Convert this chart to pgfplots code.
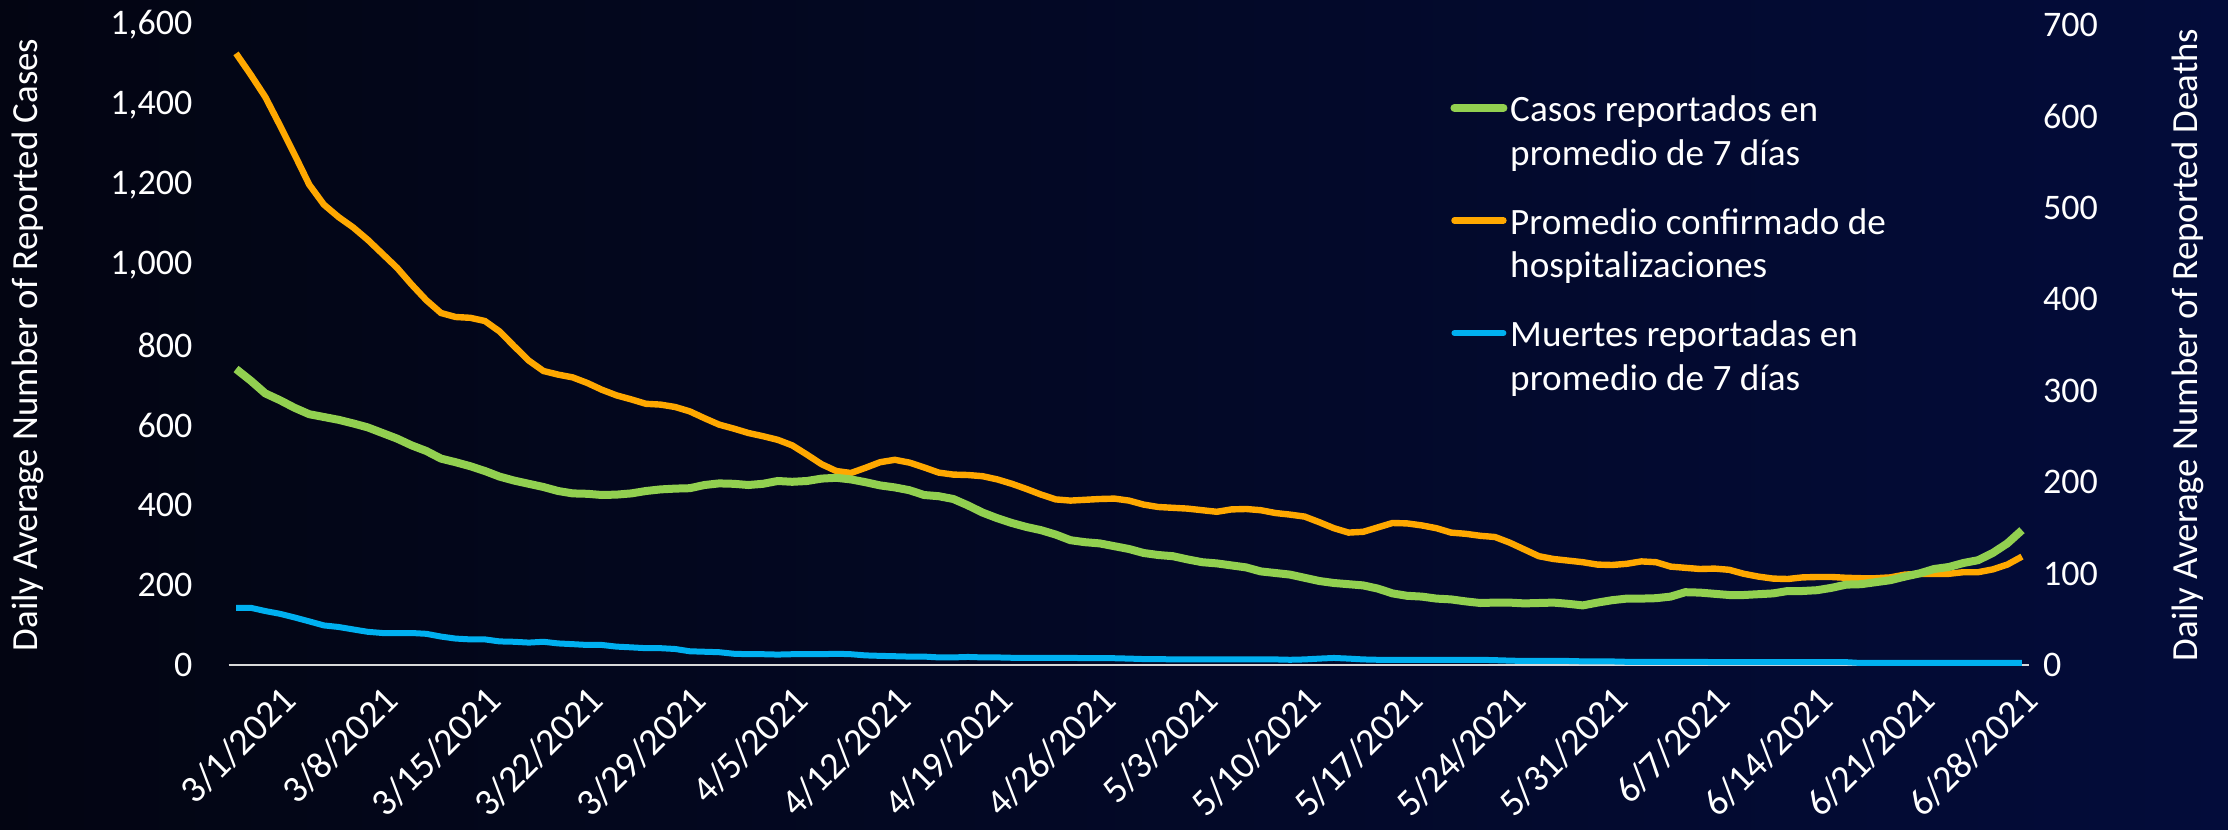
\documentclass[border=0pt]{standalone}
\usepackage{fontspec}
\setmainfont{Carlito}
\usepackage{pgfplots}
\usepackage{pgfplotstable}
\pgfplotsset{compat=1.18}

\definecolor{bgL}{RGB}{3,5,18}
\definecolor{bgR}{RGB}{3,12,58}
\definecolor{casos}{RGB}{146,208,80}
\definecolor{hosp}{RGB}{255,168,0}
\definecolor{muertes}{RGB}{0,176,240}
\definecolor{axisgray}{RGB}{217,217,217}

% day 0 = 3/1/2021; deaths read on the right axis
\pgfplotstableread{
day cases hosp deaths
0 740 1529 62.6
1 711 1476 62.6
2 679 1420 59.0
3 662 1349 56.0
4 643 1276 52.0
5 627 1201 47.7
6 620 1151 43.3
7 613 1120 41.6
8 604 1094 38.9
9 594 1063 36.3
10 580 1028 35.0
11 566 993 35.0
12 549 951 35.0
13 535 912 34.1
14 516 880 31.1
15 507 870 28.9
16 497 868 28.0
17 485 860 28.0
18 471 834 25.8
19 461 797 25.4
20 453 761 24.5
21 445 735 25.4
22 435 726 23.6
23 429 719 22.8
24 428 705 21.9
25 425 688 21.9
26 426 674 20.1
27 429 664 19.3
28 435 653 18.4
29 439 651 18.4
30 441 645 17.5
31 442 634 15.0
32 450 617 14.5
33 454 601 14.0
34 453 591 12.3
35 450 580 11.8
36 453 572 11.8
37 460 563 11.4
38 458 549 11.8
39 460 526 11.8
40 466 502 11.8
41 468 485 12.3
42 464 480 11.8
43 457 493 10.5
44 449 507 10.0
45 444 513 9.6
46 437 506 9.2
47 425 494 9.2
48 422 481 8.3
49 415 476 8.3
50 399 475 8.8
51 381 472 8.3
52 367 464 8.3
53 355 453 7.9
54 345 440 7.9
55 337 426 7.9
56 326 414 7.9
57 312 411 7.9
58 307 413 7.4
59 304 415 7.4
60 297 416 7.4
61 290 411 7.0
62 280 401 6.5
63 275 395 6.5
64 272 393 6.1
65 264 391 6.1
66 257 387 6.1
67 254 383 6.1
68 249 389 6.1
69 244 390 6.1
70 234 387 6.1
71 230 380 6.1
72 226 376 5.7
73 218 371 6.1
74 210 357 7.0
75 205 342 7.7
76 202 331 7.0
77 199 333 6.1
78 191 344 5.7
79 179 355 5.7
80 173 354 5.7
81 171 349 5.7
82 166 342 5.7
83 164 331 5.7
84 159 328 5.7
85 155 323 5.7
86 156 320 5.3
87 156 306 4.8
88 154 289 4.4
89 155 272 4.4
90 156 265 4.4
91 153 261 4.4
92 149 257 4.0
93 156 251 3.9
94 162 250 3.9
95 166 253 3.5
96 166 259 3.5
97 167 257 3.5
98 171 246 3.5
99 182 243 3.5
100 181 240 3.5
101 178 241 3.1
102 175 238 3.1
103 175 228 3.1
104 177 221 3.1
105 179 216 3.1
106 185 215 3.1
107 185 219 3.1
108 187 220 3.1
109 193 220 3.1
110 201 218 3.1
111 202 217 2.2
112 207 217 2.2
113 212 219 2.2
114 221 226 2.2
115 229 228 2.2
116 240 228 2.2
117 245 228 2.2
118 255 232 2.2
119 262 232 2.2
120 280 239 2.2
121 304 251 2.2
122 337 271 2.2
}\covid

\pgfplotsset{
  chartbase/.style={
    scale only axis,
    width=450.15pt, height=160pt,
    xmin=-0.5, xmax=122.5,
    tick style={draw=none},
    ticklabel style={text=white, font=\fontsize{9}{10}\selectfont},
    /pgf/number format/assume math mode=true,
  },
}

\begin{document}
\begin{tikzpicture}
\shade[left color=bgL, right color=bgR] (-57.18pt,-41pt) rectangle (499.83pt,166.25pt);

\begin{axis}[chartbase,
  ymin=0, ymax=1600, ytick={0,200,...,1600},
  /pgf/number format/1000 sep={,},
  axis x line*=bottom, axis y line*=left,
  x axis line style={-, draw=axisgray, line width=0.6pt},
  y axis line style={draw=none},
  xtick={0,7,...,119},
  xticklabels={3/1/2021,3/8/2021,3/15/2021,3/22/2021,3/29/2021,4/5/2021,4/12/2021,4/19/2021,4/26/2021,5/3/2021,5/10/2021,5/17/2021,5/24/2021,5/31/2021,6/7/2021,6/14/2021,6/21/2021,6/28/2021},
  xticklabel style={rotate=45, anchor=east, inner sep=0pt, xshift=4.5pt, yshift=-14.5pt, font=\fontsize{9.5}{10}\selectfont},
  yticklabel style={anchor=east, inner sep=0pt, xshift=-8.9pt},
  ylabel={Daily Average Number of Reported Cases},
  every axis y label/.style={at={(axis description cs:-0.1115,0.5)}, rotate=90, anchor=center,
    text=white, font=\fontsize{9.2}{11}\selectfont},
]
\addplot[hosp, line width=1.6pt] table[x=day, y=hosp] {\covid};
\addplot[casos, line width=2pt] table[x=day, y=cases] {\covid};
\end{axis}

\begin{axis}[chartbase,
  ymin=0, ymax=700, ytick={0,100,...,700},
  xtick=\empty,
  axis x line=none, axis y line*=right,
  y axis line style={draw=none},
  yticklabel style={anchor=west, inner sep=0pt, xshift=3.25pt},
  ylabel={Daily Average Number of Reported Deaths},
  every axis y label/.style={at={(axis description cs:1.0883,0.5)}, rotate=90, anchor=center,
    text=white, font=\fontsize{9.2}{11}\selectfont},
  legend image code/.code={\draw[#1, line cap=round] (1pt,6.4pt) -- (13.25pt,6.4pt); \path (0pt,6.4pt) (14.25pt,6.4pt);},
  legend cell align=left,
  legend style={draw=none, fill=none, text=white, font=\fontsize{9.3}{10.9}\selectfont,
    at={(axis description cs:0.6763,0.902)}, anchor=north west,
    inner sep=0pt, outer sep=0pt, row sep=5.3pt, column sep=-2.3pt,
    cells={anchor=west, align=left, inner sep=0pt}},
]
\addlegendimage{casos, line width=2pt}
\addlegendentry{Casos reportados en\\promedio de 7 días}
\addlegendimage{hosp, line width=1.6pt}
\addlegendentry{Promedio confirmado de\\hospitalizaciones}
\addplot[muertes, line width=1.5pt] table[x=day, y=deaths] {\covid};
\addlegendentry{Muertes reportadas en\\promedio de 7 días}
\end{axis}

\pgfresetboundingbox
\path (-57.18pt,-41pt) rectangle (499.83pt,166.25pt);
\end{tikzpicture}
\end{document}
